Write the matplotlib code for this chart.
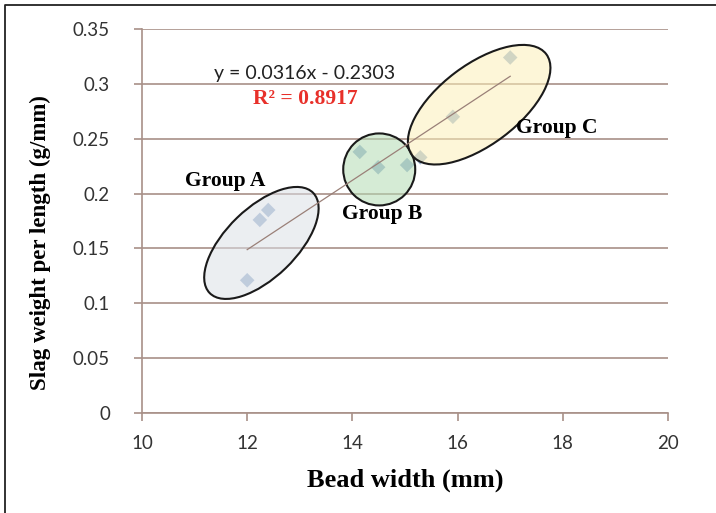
import numpy as np
import matplotlib.pyplot as plt
from matplotlib.patches import Ellipse
from matplotlib.lines import Line2D
from matplotlib.transforms import ScaledTranslation

# Datos
group_a_x = [12.0, 12.24, 12.40]
group_a_y = [0.121, 0.176, 0.185]
group_b_x = [14.14, 14.49, 15.04]
group_b_y = [0.238, 0.224, 0.226]
group_c_x = [15.29, 15.91, 17.0]
group_c_y = [0.233, 0.270, 0.324]

slope = 0.0316
intercept = -0.2303
r2 = 0.8917

x_ticks = [10, 12, 14, 16, 18, 20]
y_ticks = [0, 0.05, 0.1, 0.15, 0.2, 0.25, 0.3, 0.35]
y_tick_labels = ['0', '0.05', '0.1', '0.15', '0.2', '0.25', '0.3', '0.35']

grid_color = '#a89088'
serif = 'Liberation Serif'
sans = 'Lato'

fig = plt.figure(figsize=(7.16, 5.13), dpi=100)
ax = fig.add_axes([142/716, 1 - 413/513, 526/716, 384/513])

# Marco de la figura (solo izquierda y arriba son visibles)
fx, fy = 5/716, 1 - 5/513
fig.lines.append(Line2D([fx, fx, 1.0], [0.0, fy, fy], transform=fig.transFigure,
                        color='#222222', linewidth=1.3))

all_x = group_a_x + group_b_x + group_c_x
all_y = group_a_y + group_b_y + group_c_y
ax.scatter(all_x, all_y, marker='D', s=55, color='#7f9cc4', alpha=0.75,
           edgecolors='none', zorder=2)

# Linea de tendencia
xt = np.array([min(all_x), max(all_x)])
ax.plot(xt, slope * xt + intercept, color='#9a8078', linewidth=0.9, zorder=4)

ax.set_xlim(10, 20)
ax.set_ylim(0, 0.35)
ax.set_xticks(x_ticks)
ax.set_yticks(y_ticks)
ax.set_yticklabels(y_tick_labels)
ax.grid(axis='y', color=grid_color, linewidth=1.2)
ax.set_axisbelow(True)
for s in ['top', 'right']:
    ax.spines[s].set_visible(False)
for s in ['left', 'bottom']:
    ax.spines[s].set_color(grid_color)
    ax.spines[s].set_linewidth(1.2)
ax.tick_params(colors=grid_color, length=6, width=1.2, labelcolor='#333333',
               labelsize=13.5)
ax.tick_params(axis='y', pad=17)
ax.tick_params(axis='x', pad=10)
for lab in ax.get_xticklabels() + ax.get_yticklabels():
    lab.set_family(sans)

# Elipses de grupos (en pixeles alrededor de un centro en datos)
def group_ellipse(cx, cy, w, h, ang, face):
    tr = fig.dpi_scale_trans + ScaledTranslation(cx, cy, ax.transData)
    e = Ellipse((0, 0), w / 100, h / 100, angle=ang, transform=tr,
                facecolor=face, edgecolor='#1a1a1a', linewidth=1.5,
                zorder=3)
    ax.add_patch(e)

group_ellipse(12.27, 0.155, 144, 70, 44, (0.86, 0.88, 0.90, 0.55))
group_ellipse(14.51, 0.222, 72, 72, 0, (0.70, 0.86, 0.70, 0.55))
group_ellipse(16.41, 0.281, 168, 80, 37, (0.99, 0.94, 0.72, 0.55))

ax.text(13.09, 0.3095, 'y = 0.0316x - 0.2303', family=sans, fontsize=14,
        color='#222222', ha='center', va='center')
ax.text(13.10, 0.2858, 'R² = 0.8917', family=serif, fontsize=15.5,
        fontweight='bold', color='#e8302a', ha='center', va='center')

ax.text(11.58, 0.2115, 'Group A', family=serif, fontsize=15.5,
        fontweight='bold', ha='center', va='center')
ax.text(14.57, 0.181, 'Group B', family=serif, fontsize=15.5,
        fontweight='bold', ha='center', va='center')
ax.text(17.89, 0.260, 'Group C', family=serif, fontsize=15.5,
        fontweight='bold', ha='center', va='center')

ax.set_xlabel('Bead width (mm)', family=serif, fontsize=19, fontweight='bold',
              labelpad=12)
ax.set_ylabel('Slag weight per length (g/mm)', family=serif, fontsize=16.5,
              fontweight='bold')
ax.yaxis.set_label_coords(-(142 - 51) / 526, (413 - 243) / 384)

fig.savefig('out.png', dpi=100)
